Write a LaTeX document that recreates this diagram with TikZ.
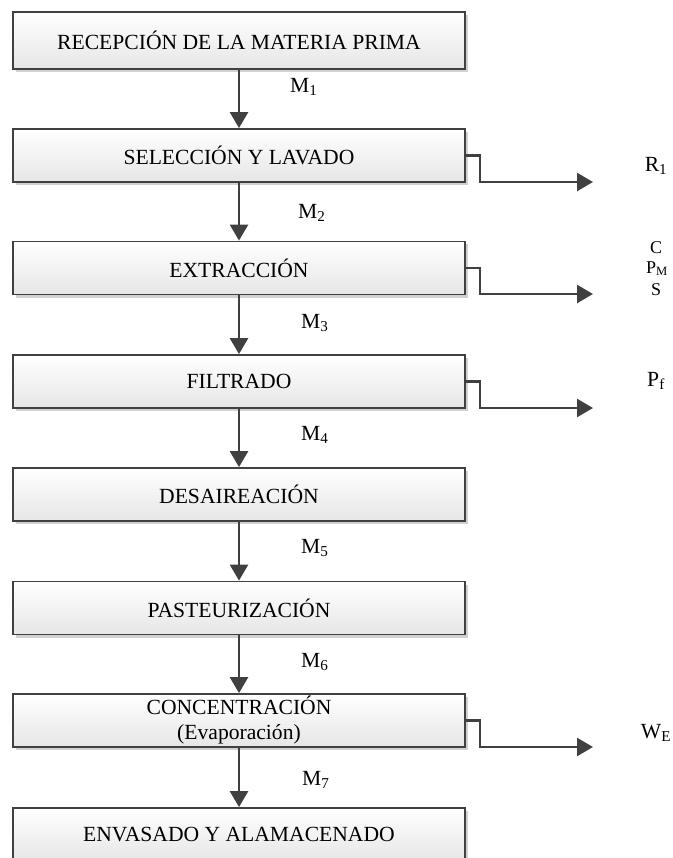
\documentclass[tikz,border=0pt]{standalone}
\usepackage{fontspec}
\setmainfont{Liberation Serif}
\usetikzlibrary{arrows.meta,shadows,calc}
\definecolor{lc}{HTML}{404040}
\definecolor{shadegray}{HTML}{E6E6E6}
\tikzset{
  procbox/.style={draw=lc, line width=1.8pt, rectangle, top color=white, bottom color=shadegray,
    minimum width=452pt, minimum height=53pt, inner sep=0pt, align=center,
    font=\fontsize{21.6}{25}\selectfont,
    drop shadow={shadow xshift=3pt, shadow yshift=-3pt, opacity=0.18, fill=black}},
  flow/.style={draw=lc, line width=2.6pt, -{Triangle[length=16pt,width=18pt]}},
  side/.style={draw=lc, line width=2.6pt, -{Triangle[length=16pt,width=18pt]}},
  mlab/.style={anchor=west, inner sep=0pt, font=\fontsize{21.6}{25}\selectfont},
  outlab/.style={anchor=center, inner sep=0pt, align=center, font=\fontsize{21.6}{25}\selectfont},
  stacklab/.style={anchor=center, inner sep=0pt, font=\fontsize{18}{20}\selectfont}
}
\begin{document}
\begin{tikzpicture}[x=1pt,y=-1pt]
\useasboundingbox (0,0) rectangle (672,858);
\begin{scope}
\clip (0,0) rectangle (672,858);
\node[procbox, minimum height=57pt] (b1) at (239,40.5) {RECEPCIÓN DE LA MATERIA PRIMA};
\node[procbox] (b2) at (239,155.5) {SELECCIÓN Y LAVADO};
\node[procbox] (b3) at (239,268) {EXTRACCIÓN};
\node[procbox] (b4) at (239,381.5) {FILTRADO};
\node[procbox] (b5) at (239,494.5) {DESAIREACIÓN};
\node[procbox] (b6) at (239,608) {PASTEURIZACIÓN};
\node[procbox] (b7) at (239,720.5) {CONCENTRACIÓN\\(Evaporación)};
\node[procbox] (b8) at (239,834.5) {ENVASADO Y ALAMACENADO};
\end{scope}

\draw[flow] (b1.south) -- (b2.north);
\draw[flow] (b2.south) -- (b3.north);
\draw[flow] (b3.south) -- (b4.north);
\draw[flow] (b4.south) -- (b5.north);
\draw[flow] (b5.south) -- (b6.north);
\draw[flow] (b6.south) -- (b7.north);
\draw[flow] (b7.south) -- (b8.north);

\node[mlab] (m1) at (290,87) {M\textsubscript{1}};
\node[mlab] (m2) at (298,213) {M\textsubscript{2}};
\node[mlab] (m3) at (301,323) {M\textsubscript{3}};
\node[mlab] (m4) at (301,435) {M\textsubscript{4}};
\node[mlab] (m5) at (301,548) {M\textsubscript{5}};
\node[mlab] (m6) at (301,662) {M\textsubscript{6}};
\node[mlab] (m7) at (302,780) {M\textsubscript{7}};

\coordinate (e2) at (593,182);
\coordinate (e3) at (593,294);
\coordinate (e4) at (593,408);
\coordinate (e7) at (593,747);
\draw[side] (b2.east) -- ++(14,0) |- (e2);
\draw[side] (b3.east) -- ++(14,0) |- (e3);
\draw[side] (b4.east) -- ++(14,0) |- (e4);
\draw[side] (b7.east) -- ++(14,0) |- (e7);

\node[outlab] (r1) at (656,166) {R\textsubscript{1}};
\node[stacklab] (c) at (656,248) {C};
\node[stacklab] (pm) at (657,268.5) {P\textsubscript{M}};
\node[stacklab] (s) at (656,289.5) {S};
\node[outlab] (pf) at (656,381) {P\textsubscript{f}};
\node[outlab] (we) at (656,733) {W\textsubscript{E}};
\end{tikzpicture}
\end{document}
